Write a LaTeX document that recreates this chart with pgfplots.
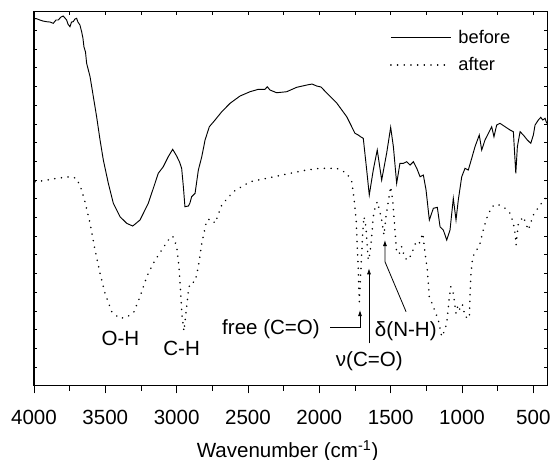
\documentclass[border=0pt]{standalone}
\usepackage{fontspec}
\setmainfont{Liberation Sans}
\usepackage{pgfplots}
\pgfplotsset{compat=1.18}
\usetikzlibrary{arrows.meta}
\newcommand{\lblfont}{\fontsize{15.4}{18}\selectfont}
\newcommand{\legfont}{\fontsize{13.7}{16}\selectfont}
\begin{document}
\begin{tikzpicture}
\begin{axis}[
  scale only axis, width=385pt, height=280.5pt,
  x dir=reverse, xmin=402, xmax=4000, ymin=0, ymax=374,
  xtick={500,1000,...,4000}, minor x tick num=1,
  xtick pos=right, xticklabels={},
  ytick={0,18.7,...,374}, yticklabels={},
  tick align=inside, major tick length=2.4pt, minor tick length=2.4pt,
  tick style={black, line width=0.6pt},
  axis line style={line width=0.8pt},
  legend style={draw=none, fill=none, at={(axis description cs:0.6936,0.8936)}, anchor=west,
    inner sep=0pt, outer sep=0pt, row sep=9pt, column sep=5pt, nodes={inner sep=0pt}, font=\legfont},
  legend cell align=left,
  legend image code/.code={\draw[#1] (0pt,0pt) -- (45pt,0pt);},
]
\addplot[black, line width=0.7pt] coordinates {
(4000,366.7) (3986,367.2) (3958,365.7) (3937,364.7) (3911,364) (3888,363.7) (3865,362.4) (3846,365.7)
(3830,365.7) (3811,368.7) (3795,369.7) (3783,367.7) (3771,365.7) (3762,361.7) (3748,359) (3737,363.7)
(3725,364) (3713,366.7) (3701,367.4) (3692,363.7) (3678,360.7) (3666,354) (3657,347.7) (3650,339)
(3639,333.7) (3631,322.4) (3607,309) (3584,289) (3561,269) (3537,245.7) (3514,225.7) (3479,202.4)
(3444,182.4) (3397,169) (3350,162.4) (3308,159.7) (3257,165.7) (3199,182.4) (3152,202.4) (3129,212.4)
(3094,219) (3059,229) (3028,236.4) (3000,229.7) (2980,223.7) (2965,217.4) (2953,199) (2942,179)
(2918,179.7) (2907,182.7) (2895,189) (2871,192.4) (2848,215.7) (2824,229) (2801,245.7) (2771,259)
(2731,265.7) (2684,274) (2626,282.4) (2556,289.7) (2486,294) (2428,296.4) (2381,296.4) (2365,299)
(2346,295.7) (2299,293) (2229,294) (2159,298.4) (2088,300.7) (2051,301.7) (2018,299.7) (1988,298.7)
(1948,292.7) (1878,282.7) (1808,269) (1750,252.4) (1727,250.7) (1708,248.7) (1692,247.4) (1668,215.7)
(1650,190.7) (1622,215.7) (1594,235.7) (1563,205.7) (1528,232.7) (1500,258.4) (1481,239) (1458,202.4)
(1435,222.4) (1411,222.4) (1388,224) (1364,220.7) (1341,224) (1317,217.4) (1294,209) (1271,210.7)
(1252,195.7) (1229,165.7) (1201,177.4) (1173,178.4) (1154,159) (1131,155.7) (1107,145.7) (1084,155.7)
(1061,187.4) (1042,165.7) (1026,185.7)
(1002,209) (979,217.4) (956,215.7) (932,227.4) (909,239) (879,250.7) (862,235.7) (839,245.7)
(815,252.4) (792,259) (776,249) (757,260.7) (734,262.4) (698,259) (663,255.7) (640,254)
(623,212.4) (612,239) (593,254) (570,250.7) (542,245.7) (518,242.4) (500,250.7) (488,260.7)
(465,265.7) (448,268.4) (434,265.7) (418,267.4) (406,262.4)
};
\addlegendentry{before}
\addplot[black, line width=1.3pt, line cap=round, dash pattern=on 0.01pt off 5pt] coordinates {
(3993,204) (3935,205) (3841,207.4) (3748,209) (3701,207.4) (3666,195.7) (3643,184) (3607,162.4)
(3572,135.7) (3537,112.4) (3502,92.4) (3455,74) (3402,67.4) (3350,68.4) (3299,74) (3257,89)
(3210,109) (3164,122.4) (3105,135.7) (3059,145.7) (3028,149.7) (3000,139.7) (2984,119) (2973,95.7)
(2963,70.7) (2949,54.7) (2930,79) (2917,95.7) (2907,102.4) (2871,104) (2848,119) (2824,142.4)
(2789,165.7) (2759,166.7) (2731,162.4) (2684,180.7) (2603,194) (2486,204) (2369,207.4) (2229,211.7)
(2088,215.7) (1995,217.4) (1878,217.4) (1808,212.7) (1773,204) (1757,187.7) (1742,165.7) (1734,139)
(1727,115.7) (1720,84) (1710,112.7) (1703,132.7) (1696,152.7) (1687,169) (1673,159) (1664,139)
(1657,125.7) (1645,132.7) (1633,149) (1622,169) (1610,177.4) (1594,184) (1580,176.4) (1563,165.7)
(1547,150.7) (1533,169) (1517,184) (1500,199) (1486,185.7) (1470,155.7) (1458,132.4) (1439,132.4)
(1423,139) (1400,127.4) (1376,125.7) (1352,132.4) (1322,144) (1299,142.4) (1275,152.4) (1259,132.4)
(1243,115.7) (1229,89) (1201,79) (1166,65.7) (1142,49) (1126,53.7) (1107,62.4)
(1091,85.7) (1079,99) (1061,92.4) (1042,72.4) (1028,80.7) (1014,75.7) (996,80.7) (979,69)
(949,67.4) (939,109) (925,129) (897,135.7) (874,142.4) (851,155.7) (827,167.4) (792,179)
(752,181.7) (698,177.4) (663,172.4) (642,163.7) (628,152.4) (621,140.7) (605,162.4) (570,169)
(535,155.7) (500,170.7) (453,180.7) (406,189)
};
\addlegendentry{after}
\node[font=\lblfont, anchor=center] at (axis cs:3394,47) {O-H};
\node[font=\lblfont, anchor=center] at (axis cs:2965,37.4) {C-H};
\node[font=\lblfont, anchor=base east, inner sep=0pt] at (axis cs:1995,51.7) {free (C=O)};
\node[font=\lblfont, anchor=base, inner sep=0pt] at (axis cs:1650,19) {ν(C=O)};
\node[font=\lblfont, anchor=base, inner sep=0pt] at (axis cs:1394,49) {δ(N-H)};
\draw[line width=0.6pt, -{Latex[length=4.5pt,width=3pt]}] (axis cs:1925,58.4) -- (axis cs:1715,58.4) -- (axis cs:1715,75.7);
\draw[line width=0.6pt, -{Latex[length=4.5pt,width=3pt]}] (axis cs:1652,42.4) -- (axis cs:1652,117.4);
\draw[line width=0.6pt, -{Latex[length=4.5pt,width=3pt]}] (axis cs:1392,74) -- (axis cs:1540,124) -- (axis cs:1540,145.7);
\end{axis}
\begin{axis}[
  scale only axis, width=385pt, height=280.5pt,
  x dir=reverse, xmin=402, xmax=4000, ymin=0, ymax=374,
  axis x line*=bottom, axis y line=none,
  xtick={500,1000,1500,2000,2500,3000,3500,4000}, minor x tick num=1,
  xticklabels={{\lblfont 500},{\lblfont 1000},{\lblfont 1500},{\lblfont 2000},{\lblfont 2500},{\lblfont 3000},{\lblfont 3500},{\lblfont 4000}},
  tick align=outside, major tick length=5.8pt, minor tick length=3.8pt,
  tick style={black, line width=0.6pt},
  axis line style={line width=0.8pt, -},
  xticklabel style={font=\lblfont, inner sep=0pt, yshift=-12.5pt},
  xlabel={Wavenumber (cm\textsuperscript{-1})},
  xlabel style={font=\lblfont, at={(axis description cs:0.494,0)}, anchor=center, yshift=-49pt},
]
\end{axis}
\pgfresetboundingbox
\useasboundingbox (-25.5pt,-55.7pt) rectangle (390pt,289.3pt);
\end{tikzpicture}
\end{document}
